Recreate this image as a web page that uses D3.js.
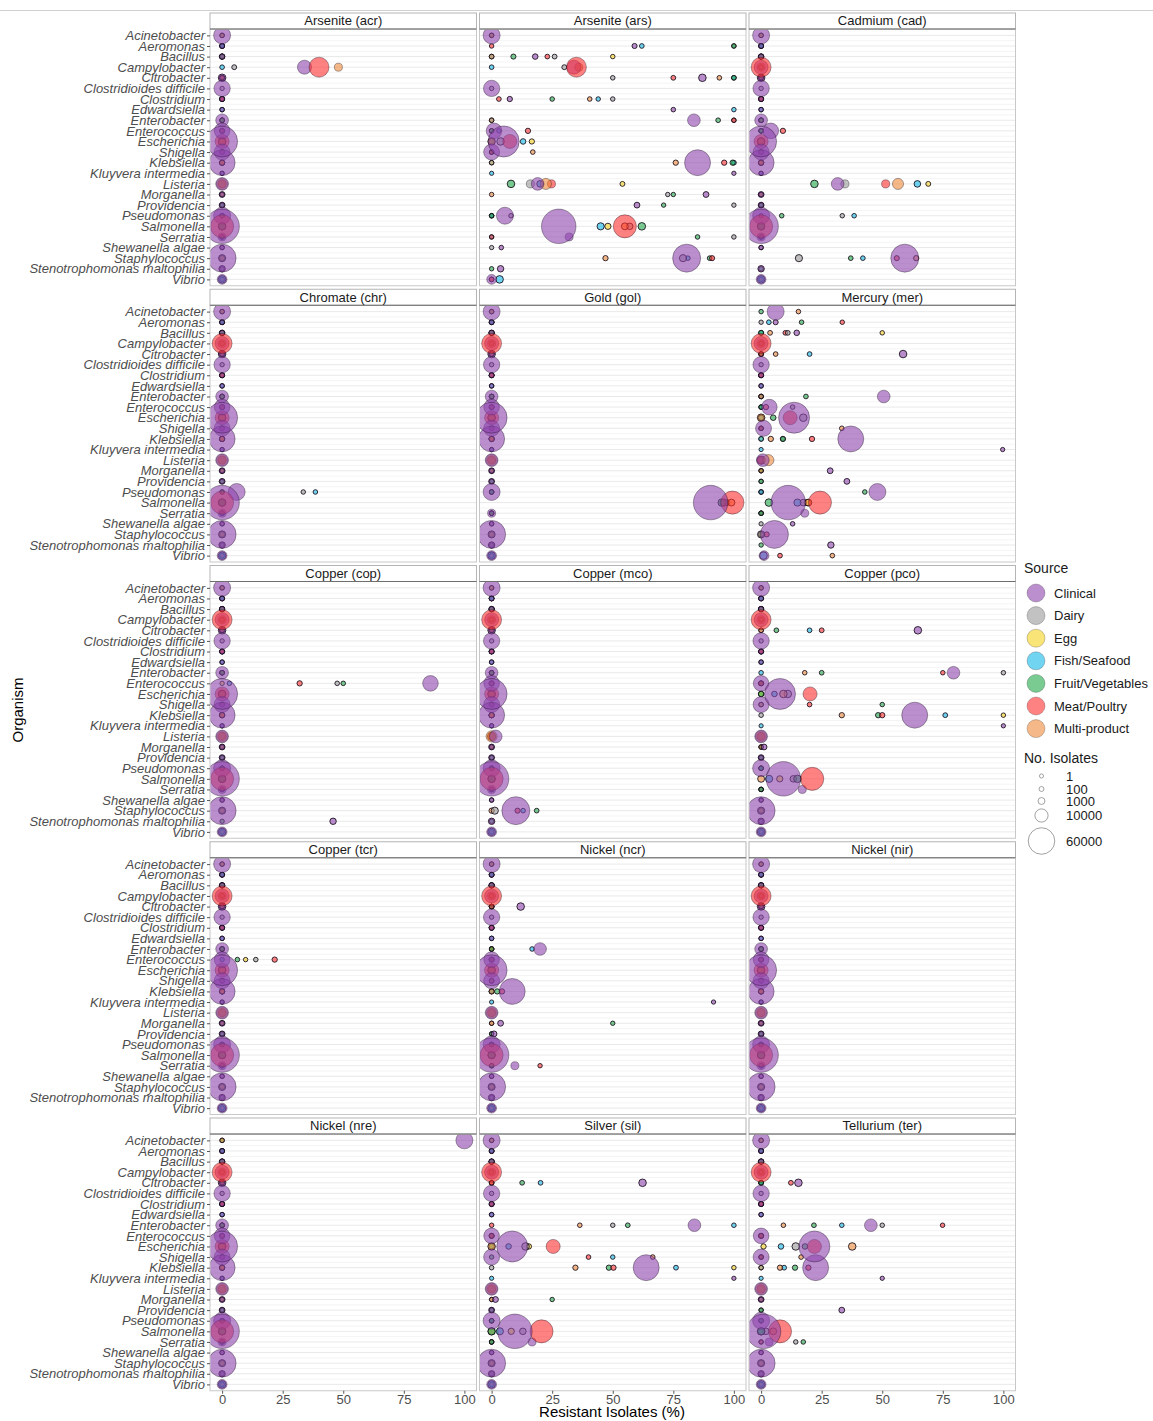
<!DOCTYPE html>
<html>
<head>
<meta charset="utf-8">
<script src="https://cdn.jsdelivr.net/npm/d3@7"></script>
<style>
  body { margin: 0; background: #fff; }
  svg { display: block; font-family: "Liberation Sans", Arial, sans-serif; }
</style>
</head>
<body>
<svg id="chart" width="1153" height="1421"></svg>
<script>
// ---- data ----------------------------------------------------------------
const organisms = [
  "Acinetobacter", "Aeromonas", "Bacillus", "Campylobacter", "Citrobacter",
  "Clostridioides difficile", "Clostridium", "Edwardsiella", "Enterobacter",
  "Enterococcus", "Escherichia", "Shigella", "Klebsiella", "Kluyvera intermedia",
  "Listeria", "Morganella", "Providencia", "Pseudomonas", "Salmonella",
  "Serratia", "Shewanella algae", "Staphylococcus",
  "Stenotrophomonas maltophilia", "Vibrio"
];

const sourceNames = ["Clinical", "Dairy", "Egg", "Fish/Seafood",
  "Fruit/Vegetables", "Meat/Poultry", "Multi-product"];
const sourceCodes = ["C", "D", "E", "F", "V", "M", "P"];
const sourceColors = ["#8E44AD", "#9A9A9A", "#F5D21E", "#12B8E6",
  "#1FA84A", "#FF2E2E", "#EE8A3A"];

// isolates per organism, columns follow sourceCodes (0 = no isolates)
const isolateCounts = [
  [20000,    0,   0,    0,   30,     0,   40],  // Acinetobacter
  [  150,   20,   0,   60,   40,    30,    0],  // Aeromonas
  [  300,   80,  30,   40,  150,    60,   80],  // Bacillus
  [12000,  100,   0,   50,    0, 30000, 1900],  // Campylobacter
  [ 1500,   40,   0,   60,   60,    80,   50],  // Citrobacter
  [18000,   20,   0,    0,    0,     0,    0],  // Clostridioides difficile
  [  200,   30,   0,   30,   40,    60,   40],  // Clostridium
  [   40,    0,   0,   30,    0,     0,    0],  // Edwardsiella
  [ 9000,   30,   0,   40,   60,    30,   40],  // Enterobacter
  [16000,   40,  20,   30,   40,   200,    0],  // Enterococcus
  [86000, 1500, 200,  300,  300, 12000, 1500],  // Escherichia
  [17000,    0,   0,   30,   30,    50,   50],  // Shigella
  [57000,   40,  30,   80,  200,   200,  200],  // Klebsiella
  [   10,    0,   0,    5,    0,     0,    0],  // Kluyvera intermedia
  [ 9000, 2000, 100,  800, 1500,  2000, 6000],  // Listeria
  [  400,   20,   0,    0,   20,     0,   20],  // Morganella
  [  400,   20,   0,    0,   20,     0,    0],  // Providencia
  [20000,   30,   0,   40,   40,    20,    0],  // Pseudomonas
  [110000, 800, 600, 1200, 1500, 43000, 1000],  // Salmonella
  [ 1900,   30,   0,   20,   40,    20,    0],  // Serratia
  [   40,   10,   0,    0,    0,     0,    0],  // Shewanella algae
  [68000, 1200,   0,   50,   60,   150,  200],  // Staphylococcus
  [  700,    0,   0,    0,   20,     0,    0],  // Stenotrophomonas maltophilia
  [ 4000,    0,   0, 1500,    0,    60,   50]   // Vibrio
];

// resistant isolates (%) per gene: [organism, source code, percent]; unlisted = 0
const acr = [
  ["Campylobacter", "D", 5], ["Campylobacter", "C", 34],
  ["Campylobacter", "M", 40], ["Campylobacter", "P", 48]
];
const ars = [
  ["Aeromonas", "C", 59], ["Aeromonas", "F", 62], ["Aeromonas", "V", 100], ["Aeromonas", "D", 100],
  ["Bacillus", "V", 9], ["Bacillus", "C", 18], ["Bacillus", "M", 23], ["Bacillus", "D", 26], ["Bacillus", "E", 50],
  ["Campylobacter", "D", 30], ["Campylobacter", "C", 34], ["Campylobacter", "M", 35], ["Campylobacter", "P", 36],
  ["Citrobacter", "D", 50], ["Citrobacter", "M", 75], ["Citrobacter", "C", 87], ["Citrobacter", "P", 94], ["Citrobacter", "V", 100], ["Citrobacter", "F", 100],
  ["Clostridium", "M", 3], ["Clostridium", "C", 7.5], ["Clostridium", "V", 25], ["Clostridium", "P", 40.5], ["Clostridium", "F", 44], ["Clostridium", "D", 50],
  ["Edwardsiella", "C", 75], ["Edwardsiella", "F", 100],
  ["Enterobacter", "C", 83.5], ["Enterobacter", "V", 93.5], ["Enterobacter", "D", 100], ["Enterobacter", "M", 100],
  ["Enterococcus", "C", 1], ["Enterococcus", "F", 3], ["Enterococcus", "M", 15],
  ["Escherichia", "D", 3.7], ["Escherichia", "C", 5], ["Escherichia", "M", 7.5], ["Escherichia", "F", 13], ["Escherichia", "E", 16.6],
  ["Shigella", "P", 17],
  ["Klebsiella", "P", 76], ["Klebsiella", "C", 85], ["Klebsiella", "M", 96], ["Klebsiella", "V", 99.5], ["Klebsiella", "F", 100],
  ["Kluyvera intermedia", "C", 100],
  ["Listeria", "V", 8], ["Listeria", "D", 16], ["Listeria", "C", 19], ["Listeria", "F", 20], ["Listeria", "P", 22.4], ["Listeria", "M", 24.7], ["Listeria", "E", 54],
  ["Morganella", "D", 72.7], ["Morganella", "V", 75], ["Morganella", "C", 88.5],
  ["Providencia", "C", 60], ["Providencia", "V", 71], ["Providencia", "D", 100],
  ["Pseudomonas", "C", 5.5], ["Pseudomonas", "D", 8],
  ["Salmonella", "C", 27.7], ["Salmonella", "F", 45], ["Salmonella", "E", 48], ["Salmonella", "M", 55], ["Salmonella", "P", 55], ["Salmonella", "D", 57], ["Salmonella", "V", 62],
  ["Serratia", "C", 32], ["Serratia", "V", 85], ["Serratia", "D", 100],
  ["Shewanella algae", "C", 4],
  ["Staphylococcus", "P", 47], ["Staphylococcus", "D", 79], ["Staphylococcus", "C", 80.5], ["Staphylococcus", "F", 81], ["Staphylococcus", "V", 90], ["Staphylococcus", "M", 91],
  ["Stenotrophomonas maltophilia", "C", 3.7],
  ["Vibrio", "F", 3.3]
];
const cad = [
  ["Enterococcus", "C", 4], ["Enterococcus", "M", 9],
  ["Listeria", "V", 22], ["Listeria", "C", 31.6], ["Listeria", "D", 34.6], ["Listeria", "M", 51.4], ["Listeria", "P", 56.5], ["Listeria", "F", 64.5], ["Listeria", "E", 69],
  ["Pseudomonas", "V", 8.5], ["Pseudomonas", "D", 33.5], ["Pseudomonas", "F", 38.4],
  ["Staphylococcus", "D", 15.6], ["Staphylococcus", "V", 37], ["Staphylococcus", "F", 42], ["Staphylococcus", "M", 56], ["Staphylococcus", "C", 59.3], ["Staphylococcus", "P", 64]
];
const chr = [
  ["Pseudomonas", "C", 6], ["Pseudomonas", "D", 33.5], ["Pseudomonas", "F", 38.5]
];
const gol = [
  ["Salmonella", "C", 90.4], ["Salmonella", "D", 95.6], ["Salmonella", "V", 95], ["Salmonella", "F", 96],
  ["Salmonella", "E", 97], ["Salmonella", "P", 99], ["Salmonella", "M", 99.4]
];
const mer = [
  ["Acinetobacter", "C", 6], ["Acinetobacter", "P", 15.4],
  ["Aeromonas", "F", 3.2], ["Aeromonas", "C", 6], ["Aeromonas", "V", 16.7], ["Aeromonas", "M", 33.5],
  ["Bacillus", "P", 3.7], ["Bacillus", "M", 10], ["Bacillus", "D", 11], ["Bacillus", "C", 14.7], ["Bacillus", "E", 50],
  ["Citrobacter", "P", 6], ["Citrobacter", "F", 20], ["Citrobacter", "C", 58.6],
  ["Enterobacter", "V", 18.5], ["Enterobacter", "C", 50.6],
  ["Enterococcus", "M", 2], ["Enterococcus", "C", 3.4], ["Enterococcus", "D", 13],
  ["Escherichia", "V", 5], ["Escherichia", "M", 12], ["Escherichia", "C", 13.6], ["Escherichia", "D", 17.4],
  ["Shigella", "C", 1], ["Shigella", "P", 33.3],
  ["Klebsiella", "P", 4], ["Klebsiella", "V", 9], ["Klebsiella", "D", 9], ["Klebsiella", "M", 21], ["Klebsiella", "C", 37],
  ["Kluyvera intermedia", "C", 99.7],
  ["Listeria", "C", 0.7], ["Listeria", "P", 3],
  ["Morganella", "C", 28.5],
  ["Providencia", "C", 35.4],
  ["Pseudomonas", "V", 42.8], ["Pseudomonas", "C", 48],
  ["Salmonella", "V", 3.2], ["Salmonella", "C", 11.2], ["Salmonella", "F", 15], ["Salmonella", "D", 17.4], ["Salmonella", "E", 19], ["Salmonella", "P", 19.5], ["Salmonella", "M", 24.3],
  ["Serratia", "C", 18],
  ["Shewanella algae", "C", 13],
  ["Staphylococcus", "M", 2.3], ["Staphylococcus", "C", 5.5],
  ["Stenotrophomonas maltophilia", "C", 28.8],
  ["Vibrio", "F", 1], ["Vibrio", "C", 1.2], ["Vibrio", "M", 7.8], ["Vibrio", "P", 29.4]
];
const cop = [
  ["Enterococcus", "F", 3], ["Enterococcus", "M", 32], ["Enterococcus", "D", 47.5], ["Enterococcus", "V", 50], ["Enterococcus", "C", 86],
  ["Stenotrophomonas maltophilia", "C", 45.8]
];
const mco = [
  ["Listeria", "C", 1.7],
  ["Staphylococcus", "D", 1.3], ["Staphylococcus", "C", 10], ["Staphylococcus", "M", 10.7], ["Staphylococcus", "F", 13], ["Staphylococcus", "V", 18.6]
];
const pco = [
  ["Citrobacter", "V", 6.3], ["Citrobacter", "F", 20], ["Citrobacter", "M", 25], ["Citrobacter", "C", 64.7],
  ["Enterobacter", "P", 18], ["Enterobacter", "V", 25], ["Enterobacter", "M", 75], ["Enterobacter", "C", 79.4], ["Enterobacter", "D", 100],
  ["Escherichia", "F", 5.5], ["Escherichia", "C", 7.8], ["Escherichia", "P", 9.2], ["Escherichia", "D", 11], ["Escherichia", "M", 20.2],
  ["Shigella", "M", 20], ["Shigella", "V", 50],
  ["Klebsiella", "P", 33.3], ["Klebsiella", "V", 48.3], ["Klebsiella", "M", 50], ["Klebsiella", "C", 63.4], ["Klebsiella", "F", 76], ["Klebsiella", "E", 100],
  ["Kluyvera intermedia", "C", 100],
  ["Morganella", "C", 1.2],
  ["Salmonella", "F", 3.3], ["Salmonella", "E", 7.7], ["Salmonella", "C", 9.2], ["Salmonella", "D", 13.3], ["Salmonella", "V", 15], ["Salmonella", "M", 21.1],
  ["Serratia", "C", 17]
];
const tcr = [
  ["Enterococcus", "V", 6.3], ["Enterococcus", "E", 9.7], ["Enterococcus", "D", 13.9], ["Enterococcus", "M", 21.7]
];
const ncr = [
  ["Citrobacter", "C", 12],
  ["Enterobacter", "F", 16.7], ["Enterobacter", "C", 20],
  ["Klebsiella", "V", 2.3], ["Klebsiella", "M", 4.3], ["Klebsiella", "C", 8.5],
  ["Kluyvera intermedia", "C", 91.6],
  ["Morganella", "C", 3.7], ["Morganella", "V", 50],
  ["Providencia", "C", 1],
  ["Serratia", "C", 9.6], ["Serratia", "M", 20]
];
const nir = [];
const nre = [
  ["Acinetobacter", "C", 100]
];
const sil = [
  ["Citrobacter", "V", 12.6], ["Citrobacter", "F", 20.2], ["Citrobacter", "C", 62.3],
  ["Enterobacter", "P", 36.4], ["Enterobacter", "D", 50], ["Enterobacter", "V", 56.2], ["Enterobacter", "C", 83.7], ["Enterobacter", "F", 100],
  ["Escherichia", "F", 7], ["Escherichia", "C", 8.5], ["Escherichia", "D", 14], ["Escherichia", "E", 15.4], ["Escherichia", "M", 25.4],
  ["Shigella", "M", 40], ["Shigella", "F", 50], ["Shigella", "P", 66.5],
  ["Klebsiella", "P", 34.6], ["Klebsiella", "V", 48.4], ["Klebsiella", "M", 50.3], ["Klebsiella", "C", 63.8], ["Klebsiella", "F", 76.1], ["Klebsiella", "E", 100],
  ["Kluyvera intermedia", "C", 100],
  ["Morganella", "C", 1.6], ["Morganella", "V", 25],
  ["Salmonella", "F", 3.4], ["Salmonella", "E", 8.1], ["Salmonella", "C", 9.6], ["Salmonella", "D", 12.9], ["Salmonella", "M", 20.6],
  ["Serratia", "C", 16.7]
];
const ter = [
  ["Citrobacter", "M", 12.3], ["Citrobacter", "C", 15.4],
  ["Enterobacter", "P", 9.2], ["Enterobacter", "V", 21.8], ["Enterobacter", "F", 33.3], ["Enterobacter", "C", 45.3], ["Enterobacter", "D", 50], ["Enterobacter", "M", 74.9],
  ["Escherichia", "E", 1], ["Escherichia", "F", 8.2], ["Escherichia", "D", 14.3], ["Escherichia", "V", 18.1], ["Escherichia", "C", 22], ["Escherichia", "M", 22], ["Escherichia", "P", 37.6],
  ["Shigella", "P", 16.5],
  ["Klebsiella", "P", 7.8], ["Klebsiella", "F", 9.5], ["Klebsiella", "V", 14], ["Klebsiella", "M", 19.5], ["Klebsiella", "C", 22.5],
  ["Kluyvera intermedia", "C", 50],
  ["Providencia", "C", 33.3],
  ["Salmonella", "C", 1], ["Salmonella", "D", 2], ["Salmonella", "P", 5], ["Salmonella", "M", 7.8],
  ["Serratia", "C", 3.3], ["Serratia", "D", 14.3], ["Serratia", "V", 17.4]
];

const geneTitles = [
  "Arsenite (acr)", "Arsenite (ars)", "Cadmium (cad)",
  "Chromate (chr)", "Gold (gol)", "Mercury (mer)",
  "Copper (cop)", "Copper (mco)", "Copper (pco)",
  "Copper (tcr)", "Nickel (ncr)", "Nickel (nir)",
  "Nickel (nre)", "Silver (sil)", "Tellurium (ter)"
];
const geneData = [acr, ars, cad, chr, gol, mer, cop, mco, pco, tcr, ncr, nir, nre, sil, ter];

const xTicks = [0, 25, 50, 75, 100];
const sizeBreaks = [1, 100, 1000, 10000, 60000];

// ---- layout --------------------------------------------------------------
const svg = d3.select("#chart");
const colX = [210, 479.5, 749];
const panelW = 266.5;
const rowTop = [13, 289.25, 565.5, 841.75, 1118];
const stripH = 16;
const plotH = 256.75;
const fillOpacity = 0.6;

const x = d3.scaleLinear().domain([-5, 105]).range([0, panelW]);
const y = d3.scalePoint().domain(organisms).range([0, plotH]).padding(0.6);
const r = d3.scaleSqrt().domain([0, 120000]).range([2, 2 + 0.046 * Math.sqrt(120000)]);

// thin rule across the top of the figure
svg.append("line").attr("x1", 0).attr("x2", 1153).attr("y1", 10.5).attr("y2", 10.5)
  .attr("stroke", "#d0d0d0").attr("stroke-width", 1);

const defs = svg.append("defs");

geneTitles.forEach((title, gi) => {
  const col = gi % 3, row = Math.floor(gi / 3);
  const px = colX[col], py = rowTop[row] + stripH;
  const g = svg.append("g").attr("transform", `translate(${px},${py})`);

  // strip
  svg.append("rect").attr("x", px).attr("y", rowTop[row]).attr("width", panelW).attr("height", stripH)
    .attr("fill", "#fff").attr("stroke", "#b5b5b5").attr("stroke-width", 1);
  svg.append("line").attr("x1", px).attr("x2", px + panelW).attr("y1", py).attr("y2", py)
    .attr("stroke", "#6e6e6e").attr("stroke-width", 1);
  svg.append("text").attr("x", px + panelW / 2).attr("y", rowTop[row] + 12.3)
    .attr("text-anchor", "middle").attr("font-size", 13).attr("fill", "#1a1a1a").text(title);

  // grid lines
  const step = y.step();
  g.selectAll("line.minor").data(organisms.slice(1)).join("line")
    .attr("x1", 0).attr("x2", panelW)
    .attr("y1", d => y(d) - step / 2).attr("y2", d => y(d) - step / 2)
    .attr("stroke", "#f1f1f1").attr("stroke-width", 0.8);
  g.selectAll("line.grid").data(organisms).join("line")
    .attr("x1", 0).attr("x2", panelW).attr("y1", d => y(d)).attr("y2", d => y(d))
    .attr("stroke", "#e3e3e3").attr("stroke-width", 0.8);

  // points: smaller bubbles first, so the larger translucent ones sit over them
  const lookup = new Map(geneData[gi].map(d => [d[0] + "|" + d[1], d[2]]));
  const pts = [];
  organisms.forEach((org, oi) => {
    sourceCodes.forEach((code, si) => {
      const n = isolateCounts[oi][si];
      if (n > 0) pts.push({ org, si, n, pct: lookup.get(org + "|" + code) || 0 });
    });
  });
  pts.sort((a, b) => a.n - b.n);

  const clipId = "clip" + gi;
  defs.append("clipPath").attr("id", clipId).append("rect")
    .attr("x", 0).attr("y", 0).attr("width", panelW).attr("height", plotH);
  g.append("g").attr("clip-path", `url(#${clipId})`)
    .selectAll("circle").data(pts).join("circle")
    .attr("cx", d => x(d.pct)).attr("cy", d => y(d.org)).attr("r", d => r(d.n))
    .attr("fill", d => sourceColors[d.si]).attr("fill-opacity", fillOpacity)
    .attr("stroke", "#140a18")
    .attr("stroke-opacity", d => r(d.n) < 4 ? 0.85 : 0.45)
    .attr("stroke-width", d => r(d.n) < 4 ? 1 : 0.8);

  // panel border
  g.append("rect").attr("x", 0).attr("y", 0).attr("width", panelW).attr("height", plotH)
    .attr("fill", "none").attr("stroke", "#c8c8c8").attr("stroke-width", 1);

  // y axis on the first column
  if (col === 0) {
    const ay = g.append("g").call(d3.axisLeft(y).tickSize(3).tickPadding(2));
    ay.select(".domain").remove();
    ay.selectAll(".tick line").attr("stroke", "#555");
    ay.selectAll(".tick text").attr("font-size", 13).attr("font-style", "italic")
      .attr("fill", "#4d4d4d").attr("font-family", "'Liberation Sans', Arial, sans-serif");
  }
  // x axis on the bottom row
  if (row === 4) {
    const ax = g.append("g").attr("transform", `translate(0,${plotH})`)
      .call(d3.axisBottom(x).tickValues(xTicks).tickSize(3).tickPadding(1));
    ax.select(".domain").remove();
    ax.selectAll(".tick line").attr("stroke", "#555");
    ax.selectAll(".tick text").attr("font-size", 13).attr("fill", "#4d4d4d")
      .attr("font-family", "'Liberation Sans', Arial, sans-serif");
  }
});

// axis titles
svg.append("text").attr("x", 612).attr("y", 1417).attr("text-anchor", "middle")
  .attr("font-size", 15).attr("fill", "#000").text("Resistant Isolates (%)");
svg.append("text").attr("transform", "translate(23,710) rotate(-90)").attr("text-anchor", "middle")
  .attr("font-size", 15).attr("fill", "#000").text("Organism");

// ---- legends -------------------------------------------------------------
const lg = svg.append("g");
lg.append("text").attr("x", 1024).attr("y", 573).attr("font-size", 14).attr("fill", "#1a1a1a").text("Source");
sourceNames.forEach((name, i) => {
  const cy = 593 + i * 22.6;
  lg.append("circle").attr("cx", 1036).attr("cy", cy).attr("r", 9)
    .attr("fill", sourceColors[i]).attr("fill-opacity", fillOpacity)
    .attr("stroke", "#000").attr("stroke-opacity", 0.3).attr("stroke-width", 0.7);
  lg.append("text").attr("x", 1054).attr("y", cy + 4.5).attr("font-size", 13)
    .attr("fill", "#1a1a1a").text(name);
});

lg.append("text").attr("x", 1024).attr("y", 763).attr("font-size", 14).attr("fill", "#1a1a1a").text("No. Isolates");
const sizeY = [776, 789, 801, 815.5, 841];
sizeBreaks.forEach((b, i) => {
  lg.append("circle").attr("cx", 1041.5).attr("cy", sizeY[i]).attr("r", r(b))
    .attr("fill", "#fff").attr("stroke", "#8a8a8a").attr("stroke-width", 0.8);
  lg.append("text").attr("x", 1066).attr("y", sizeY[i] + 4.5).attr("font-size", 13)
    .attr("fill", "#1a1a1a").text(b);
});
</script>
</body>
</html>
